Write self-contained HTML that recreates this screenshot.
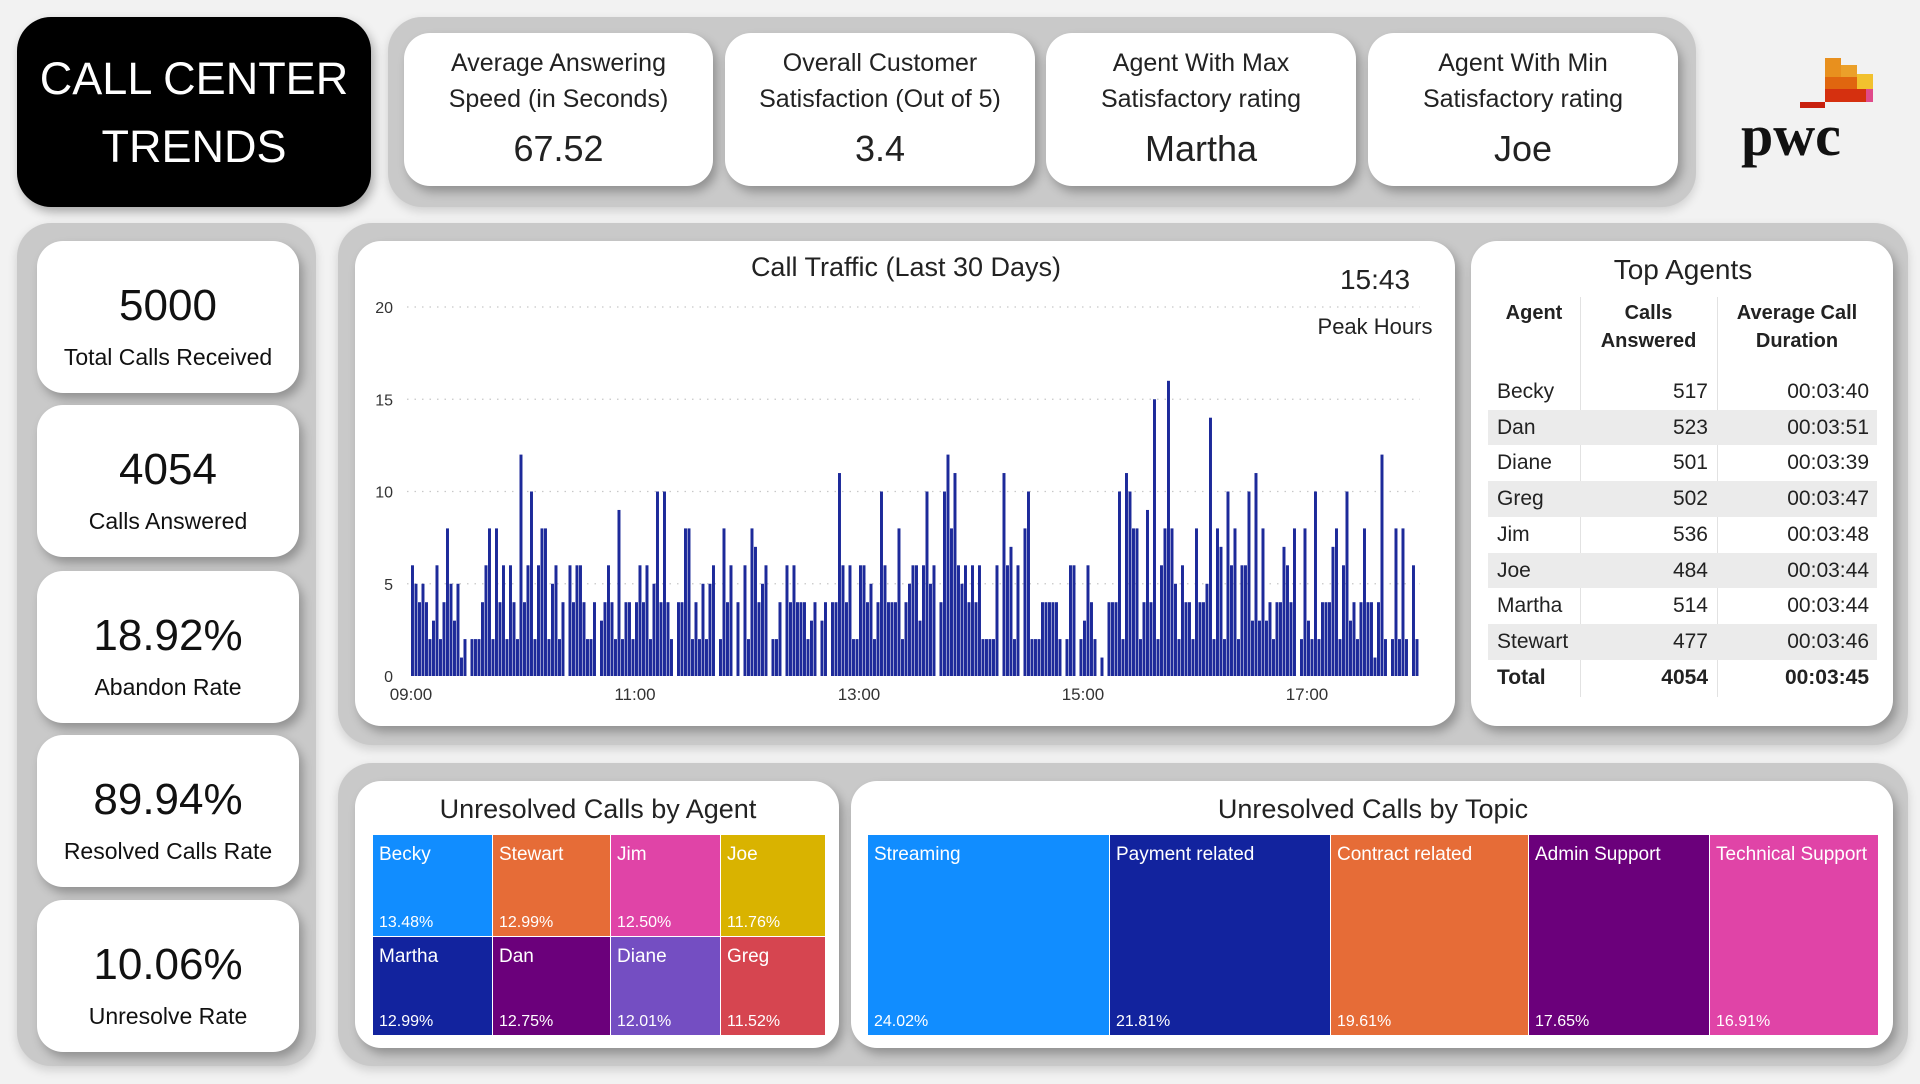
<!DOCTYPE html>
<html><head><meta charset="utf-8">
<style>
*{margin:0;padding:0;box-sizing:border-box}
body{width:1920px;height:1084px;background:#f2f2f2;font-family:"Liberation Sans",sans-serif;position:relative;overflow:hidden;color:#222}
.abs{position:absolute}
.grp{position:absolute;background:#c9c9c9;border-radius:34px;box-shadow:0 4px 10px rgba(0,0,0,.15)}
.card{position:absolute;background:#fff;border-radius:26px;box-shadow:4px 6px 10px rgba(0,0,0,.28)}
.kpi{text-align:center}
.kpi .lbl{position:absolute;left:0;right:0;top:12px;font-size:25px;line-height:36px;color:#222}
.kpi .val{position:absolute;left:0;right:0;top:95px;font-size:36px;color:#222}
.side .num{position:absolute;left:0;right:0;top:40px;font-size:44px;text-align:center;color:#111}
.side .lab{position:absolute;left:0;right:0;top:103px;font-size:23px;text-align:center;color:#111}
.tm{position:absolute;color:#fff;font-size:19px;border:1px solid #fff}
.tm .n{position:absolute;left:6px;top:9px}
.tm .p{position:absolute;left:6px;bottom:4px;font-size:16px}
.ttl{position:absolute;font-size:27px;color:#222;text-align:center}
</style></head><body>

<div class="abs" style="left:17px;top:17px;width:354px;height:190px;background:#000;border-radius:34px;box-shadow:3px 5px 10px rgba(0,0,0,.3);color:#fff;text-align:center;font-size:45px;line-height:68px;padding-top:28px">CALL CENTER<br>TRENDS</div>

<div class="grp" style="left:388px;top:17px;width:1308px;height:190px"></div>
<div class="card kpi" style="left:404px;top:33px;width:309px;height:153px"><div class="lbl">Average Answering<br>Speed (in Seconds)</div><div class="val">67.52</div></div>
<div class="card kpi" style="left:725px;top:33px;width:310px;height:153px"><div class="lbl">Overall Customer<br>Satisfaction (Out of 5)</div><div class="val">3.4</div></div>
<div class="card kpi" style="left:1046px;top:33px;width:310px;height:153px"><div class="lbl">Agent With Max<br>Satisfactory rating</div><div class="val">Martha</div></div>
<div class="card kpi" style="left:1368px;top:33px;width:310px;height:153px"><div class="lbl">Agent With Min<br>Satisfactory rating</div><div class="val">Joe</div></div>

<div class="abs" style="left:1738px;top:55px;width:140px;height:110px">
 <div class="abs" style="left:87px;top:3px;width:16px;height:44px;background:#e8901e"></div>
 <div class="abs" style="left:103px;top:10px;width:16px;height:37px;background:#eba02a"></div>
 <div class="abs" style="left:119px;top:19px;width:16px;height:28px;background:#f2c12e"></div>
 <div class="abs" style="left:87px;top:22px;width:32px;height:12px;background:#e0660f"></div>
 <div class="abs" style="left:87px;top:34px;width:48px;height:13px;background:#d5300f"></div>
 <div class="abs" style="left:128px;top:34px;width:7px;height:13px;background:#e04a8a"></div>
 <div class="abs" style="left:62px;top:47px;width:25px;height:6px;background:#c8200e"></div>
 <div class="abs" style="left:3px;top:52px;font-family:'Liberation Serif',serif;font-weight:bold;font-size:58px;line-height:58px;color:#111">pwc</div>
</div>

<div class="grp" style="left:17px;top:223px;width:299px;height:843px"></div>
<div class="card side" style="left:37px;top:241px;width:262px;height:152px"><div class="num">5000</div><div class="lab">Total Calls Received</div></div>
<div class="card side" style="left:37px;top:405px;width:262px;height:152px"><div class="num">4054</div><div class="lab">Calls Answered</div></div>
<div class="card side" style="left:37px;top:571px;width:262px;height:152px"><div class="num">18.92%</div><div class="lab">Abandon Rate</div></div>
<div class="card side" style="left:37px;top:735px;width:262px;height:152px"><div class="num">89.94%</div><div class="lab">Resolved Calls Rate</div></div>
<div class="card side" style="left:37px;top:900px;width:262px;height:152px"><div class="num">10.06%</div><div class="lab">Unresolve Rate</div></div>

<div class="grp" style="left:338px;top:223px;width:1570px;height:522px"></div>
<div class="card" style="left:355px;top:241px;width:1100px;height:485px"></div>
<div class="ttl" style="left:656px;top:252px;width:500px">Call Traffic (Last 30 Days)</div>
<div class="abs" style="left:1300px;top:264px;width:150px;text-align:center;font-size:28px">15:43</div>
<div class="abs" style="left:1300px;top:314px;width:150px;text-align:center;font-size:22px">Peak Hours</div>
<svg id="chart" class="abs" style="left:0;top:0" width="1920" height="1084"></svg>

<div class="card" style="left:1471px;top:241px;width:422px;height:485px"></div>
<div class="ttl" style="left:1533px;top:254px;width:300px;font-size:28px">Top Agents</div>
<div class="abs" style="left:1488px;top:297px;width:389px;font-size:21px">
 <div class="abs" style="left:92px;top:0;width:1px;height:400px;background:#e2e2e2"></div>
 <div class="abs" style="left:229px;top:0;width:1px;height:400px;background:#e2e2e2"></div>
 <div class="abs" style="left:0;top:2px;width:92px;text-align:center;font-weight:bold;font-size:20px;line-height:28px">Agent</div>
 <div class="abs" style="left:92px;top:2px;width:137px;text-align:center;font-weight:bold;font-size:20px;line-height:28px">Calls<br>Answered</div>
 <div class="abs" style="left:229px;top:2px;width:160px;text-align:center;font-weight:bold;font-size:20px;line-height:28px">Average Call<br>Duration</div>
 <div id="rows"></div>
</div>

<div class="grp" style="left:338px;top:763px;width:1570px;height:303px"></div>
<div class="card" style="left:355px;top:781px;width:484px;height:267px"></div>
<div class="ttl" style="left:398px;top:794px;width:400px">Unresolved Calls by Agent</div>
<div class="card" style="left:851px;top:781px;width:1042px;height:267px"></div>
<div class="ttl" style="left:1173px;top:794px;width:400px">Unresolved Calls by Topic</div>

<div class="tm" style="left:372px;top:834px;width:121px;height:103px;background:#118dff"><span class="n">Becky</span><span class="p">13.48%</span></div>
<div class="tm" style="left:492px;top:834px;width:119px;height:103px;background:#e66c37"><span class="n">Stewart</span><span class="p">12.99%</span></div>
<div class="tm" style="left:610px;top:834px;width:111px;height:103px;background:#e044a7"><span class="n">Jim</span><span class="p">12.50%</span></div>
<div class="tm" style="left:720px;top:834px;width:106px;height:103px;background:#d9b300"><span class="n">Joe</span><span class="p">11.76%</span></div>
<div class="tm" style="left:372px;top:936px;width:121px;height:100px;background:#12239e"><span class="n">Martha</span><span class="p">12.99%</span></div>
<div class="tm" style="left:492px;top:936px;width:119px;height:100px;background:#6b007b"><span class="n">Dan</span><span class="p">12.75%</span></div>
<div class="tm" style="left:610px;top:936px;width:111px;height:100px;background:#744ec2"><span class="n">Diane</span><span class="p">12.01%</span></div>
<div class="tm" style="left:720px;top:936px;width:106px;height:100px;background:#d64550"><span class="n">Greg</span><span class="p">11.52%</span></div>

<div class="tm" style="left:867px;top:834px;width:243px;height:202px;background:#118dff"><span class="n">Streaming</span><span class="p">24.02%</span></div>
<div class="tm" style="left:1109px;top:834px;width:222px;height:202px;background:#12239e"><span class="n">Payment related</span><span class="p">21.81%</span></div>
<div class="tm" style="left:1330px;top:834px;width:199px;height:202px;background:#e66c37"><span class="n">Contract related</span><span class="p">19.61%</span></div>
<div class="tm" style="left:1528px;top:834px;width:182px;height:202px;background:#6b007b"><span class="n">Admin Support</span><span class="p">17.65%</span></div>
<div class="tm" style="left:1709px;top:834px;width:170px;height:202px;background:#e044a7"><span class="n">Technical Support</span><span class="p">16.91%</span></div>

<script>
const callCounts = [6,5,4,5,4,2,3,6,2,4,8,5,3,5,1,2,0,2,2,2,4,6,8,2,8,4,6,2,6,4,2,12,4,6,10,2,6,8,8,2,5,6,2,4,0,6,4,6,6,4,2,2,4,0,3,4,6,4,2,9,2,4,4,2,4,6,4,6,2,5,10,4,10,4,2,0,4,4,8,8,2,4,2,5,2,5,6,0,2,8,4,6,0,4,0,6,2,8,7,4,5,6,0,2,2,4,0,6,4,6,4,4,4,2,3,4,0,3,4,0,4,4,11,6,4,6,2,2,6,6,4,5,2,4,10,6,4,
4,4,8,2,4,5,6,6,3,6,10,5,6,0,4,10,12,8,11,6,5,6,4,6,4,6,2,2,2,2,6,0,11,6,7,2,6,0,8,10,2,2,2,4,4,4,4,4,2,0,2,6,6,0,2,3,6,4,2,0,1,0,4,4,4,10,2,11,10,8,8,2,4,9,4,15,2,6,8,16,8,5,2,6,4,4,2,8,4,4,5,14,2,8,7,2,10,6,8,2,6,6,10,3,11,3,8,3,4,2,4,4,7,6,4,8,0,2,8,3,2,10,2,4,4,4,7,8,2,6,10,3,4,2,4,8,4,4,1,4,12,2,0,2,8,2,8,2,0,6,2];
const yTicks = [0,5,10,15,20];
const xTickLabels = ["09:00","11:00","13:00","15:00","17:00"];
const xTickMinutes = [0,120,240,360,480];
const agents = ["Becky","Dan","Diane","Greg","Jim","Joe","Martha","Stewart"];
const answered = [517,523,501,502,536,484,514,477];
const durations = ["00:03:40","00:03:51","00:03:39","00:03:47","00:03:48","00:03:44","00:03:44","00:03:46"];

const NS="http://www.w3.org/2000/svg";
const svg=document.getElementById('chart');
const x0=411,x1=1419,y0=676,y20=307,totalMin=540;
const xMin=m=>x0+(x1-x0)*m/totalMin;
const yVal=v=>y0-(y0-y20)*v/20;
function mk(tag,attrs){const e=document.createElementNS(NS,tag);for(const k in attrs)e.setAttribute(k,attrs[k]);svg.appendChild(e);return e;}
yTicks.forEach(t=>{
  if(t>0){const g=mk('line',{x1:407,x2:1420,y1:yVal(t),y2:yVal(t),stroke:'#c8c8c8','stroke-width':1.2,'stroke-dasharray':'1.5 6'});
  
  }
  const l=mk('text',{x:393,y:yVal(t)+6,'text-anchor':'end','font-size':16,fill:'#333','font-family':'Liberation Sans, sans-serif'});
  l.textContent=t;
  
  
});
const pitch=(x1-x0)/callCounts.length;
callCounts.forEach((v,i)=>{
  if(v<=0)return;
  const r=mk('rect',{x:x0+i*pitch,y:yVal(v),width:pitch*0.85,height:y0-yVal(v),fill:'#1d2a9a'});
  
  
});
xTickLabels.forEach((lab,i)=>{
  const t=mk('text',{x:xMin(xTickMinutes[i]),y:700,'text-anchor':'middle','font-size':17,fill:'#333','font-family':'Liberation Sans, sans-serif'});
  t.textContent=lab;
  
  
});

const rows=document.getElementById('rows');
const rowH=35.7, rowTop=77;
agents.concat(["Total"]).forEach((a,i)=>{
  const d=document.createElement('div');
  
  
  const isTot=i===agents.length;
  d.style.cssText=`position:absolute;left:0;width:389px;top:${rowTop+i*rowH}px;height:${rowH}px;line-height:${rowH}px;${i%2==1?'background:#ebebeb;':''}${isTot?'font-weight:bold;':''}`;
  const calls=isTot?answered.reduce((s,v)=>s+v,0):answered[i];
  const dur=isTot?"00:03:45":durations[i];
  d.innerHTML=`<span style="position:absolute;left:9px">${a}</span><span style="position:absolute;right:169px">${calls}</span><span style="position:absolute;right:8px">${dur}</span>`;
  rows.appendChild(d);
});
</script>
</body></html>
